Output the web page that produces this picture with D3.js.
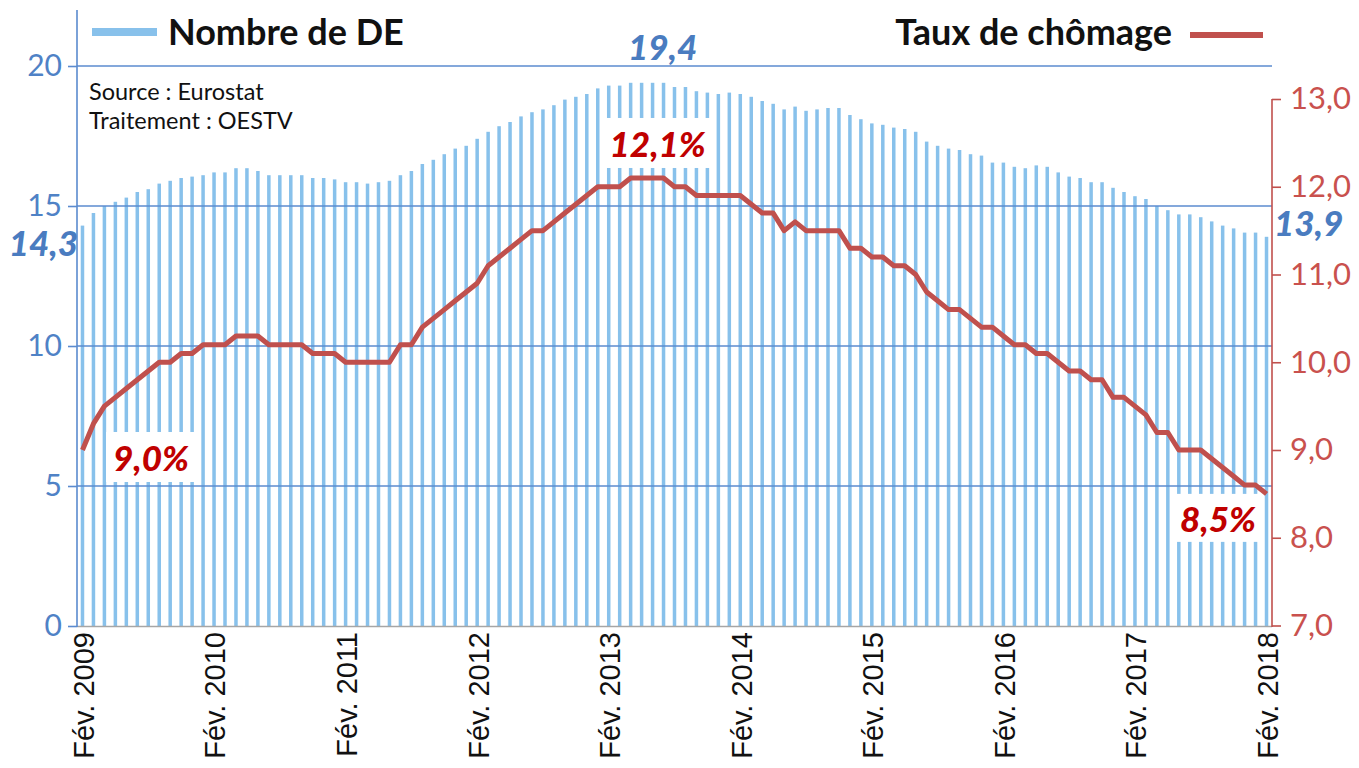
<!DOCTYPE html>
<html><head><meta charset="utf-8">
<script src="https://cdn.jsdelivr.net/npm/d3@7"></script>
<style>
html,body{margin:0;padding:0;background:#fff;}
svg{display:block;}
</style></head>
<body>
<svg id="chart" width="1359" height="768"></svg>
<script>
// ---------- DATA ----------
const startYear = 2009, startMonth = 1; // février (0-based index 1)
const monthNames = ["Jan.","Fév.","Mars","Avr.","Mai","Juin","Juil.","Août","Sept.","Oct.","Nov.","Déc."];
const nMonths = 109; // Fév. 2009 -> Fév. 2018
const categories = Array.from({length: nMonths}, (_, i) => {
  const m = (startMonth + i) % 12, y = startYear + Math.floor((startMonth + i) / 12);
  return monthNames[m] + " " + y;
});
const tickLabels = ["Fév. 2009","Fév. 2010","Fév. 2011","Fév. 2012","Fév. 2013","Fév. 2014","Fév. 2015","Fév. 2016","Fév. 2017","Fév. 2018"];

// Nombre de demandeurs d'emploi (millions)
const nombreDE = [
  14.3,14.75,15.0,15.15,15.3,15.5,15.6,15.8,15.9,16.0,16.05,16.1,
  16.2,16.2,16.35,16.35,16.25,16.1,16.1,16.1,16.1,16.0,16.0,15.95,
  15.85,15.85,15.8,15.85,15.9,16.1,16.25,16.5,16.65,16.85,17.05,17.15,
  17.4,17.65,17.85,18.0,18.2,18.35,18.45,18.6,18.8,18.9,19.0,19.2,
  19.3,19.3,19.4,19.4,19.4,19.4,19.25,19.25,19.1,19.05,19.0,19.05,
  19.0,18.9,18.75,18.65,18.45,18.55,18.4,18.45,18.5,18.5,18.25,18.1,
  17.95,17.9,17.8,17.75,17.65,17.3,17.15,17.05,17.0,16.85,16.8,16.55,
  16.55,16.4,16.35,16.45,16.4,16.2,16.05,16.0,15.85,15.85,15.65,15.5,
  15.35,15.25,15.0,14.85,14.7,14.7,14.6,14.45,14.3,14.2,14.05,14.05,
  13.9
];
// Taux de chômage (%)
const tauxChomage = [
  9.0,9.3,9.5,9.6,9.7,9.8,9.9,10.0,10.0,10.1,10.1,10.2,
  10.2,10.2,10.3,10.3,10.3,10.2,10.2,10.2,10.2,10.1,10.1,10.1,
  10.0,10.0,10.0,10.0,10.0,10.2,10.2,10.4,10.5,10.6,10.7,10.8,
  10.9,11.1,11.2,11.3,11.4,11.5,11.5,11.6,11.7,11.8,11.9,12.0,
  12.0,12.0,12.1,12.1,12.1,12.1,12.0,12.0,11.9,11.9,11.9,11.9,
  11.9,11.8,11.7,11.7,11.5,11.6,11.5,11.5,11.5,11.5,11.3,11.3,
  11.2,11.2,11.1,11.1,11.0,10.8,10.7,10.6,10.6,10.5,10.4,10.4,
  10.3,10.2,10.2,10.1,10.1,10.0,9.9,9.9,9.8,9.8,9.6,9.6,
  9.5,9.4,9.2,9.2,9.0,9.0,9.0,8.9,8.8,8.7,8.6,8.6,
  8.5
];
const leftTicks = [0,5,10,15,20];
const rightTicks = [7,8,9,10,11,12,13];
const legendLabels = ["Nombre de DE","Taux de chômage"];
const sourceLines = ["Source : Eurostat","Traitement : OESTV"];

// ---------- STYLE ----------
const C = {
  bar: "#88C1EB", grid: "#5B8BCF", leftTxt: "#4F82C6", valBlue: "#4A7CC0",
  red: "#C0504D", redTxt: "#C9514E", valRed: "#C00000", axisGrey: "#A6A6A6"
};
const FONT = "Lato, 'Open Sans', sans-serif";

const svg = d3.select("#chart");
const xL = 77, xR = 1272, yB = 626;

const x = d3.scaleBand().domain(categories).range([xL, xR]).paddingInner(0.68).paddingOuter(0.34);
const xc = d => x(d) + x.bandwidth() / 2;
const yL = d3.scaleLinear().domain([0, 20]).range([yB, 66]);
const yR = d3.scaleLinear().domain([7, 13]).range([yB - 0.5, 99]);

// bars
svg.append("g").selectAll("rect").data(nombreDE).join("rect")
  .attr("x", (d, i) => x(categories[i]))
  .attr("width", x.bandwidth())
  .attr("y", d => yL(d))
  .attr("height", d => yL(0) - yL(d))
  .attr("fill", C.bar);

// gridlines (over bars)
svg.append("g").selectAll("line").data(leftTicks.filter(t => t > 0)).join("line")
  .attr("x1", xL).attr("x2", xR).attr("y1", d => yL(d)).attr("y2", d => yL(d))
  .attr("stroke", C.grid).attr("stroke-width", 1.6);

// bottom axis line
svg.append("line").attr("x1", xL).attr("x2", xR).attr("y1", yB + 0.5).attr("y2", yB + 0.5)
  .attr("stroke", C.axisGrey).attr("stroke-width", 1.5);

// left axis
const gL = svg.append("g").attr("transform", `translate(${xL},0)`)
  .call(d3.axisLeft(yL).tickValues(leftTicks).tickSize(9).tickPadding(6).tickFormat(d3.format("d")));
gL.select(".domain").remove();
gL.append("line").attr("x1", 0).attr("x2", 0).attr("y1", 10).attr("y2", yB + 1)
  .attr("stroke", C.grid).attr("stroke-width", 1.6);
gL.selectAll(".tick line").attr("stroke", C.grid).attr("stroke-width", 1.6);
gL.selectAll(".tick text").attr("fill", C.leftTxt).attr("font-family", FONT).attr("font-size", 30);

// right axis
const gR = svg.append("g").attr("transform", `translate(${xR},0)`)
  .call(d3.axisRight(yR).tickValues(rightTicks).tickSize(9).tickPadding(9)
    .tickFormat(d => d3.format(".1f")(d).replace(".", ",")));
gR.select(".domain").attr("stroke", C.red).attr("stroke-width", 1.6)
  .attr("d", `M0,${yR(13)}V${yB + 1}`);
gR.selectAll(".tick line").attr("stroke", C.red).attr("stroke-width", 1.6);
gR.selectAll(".tick text").attr("fill", C.redTxt).attr("font-family", FONT).attr("font-size", 31);

// x tick labels
const tickIdx = tickLabels.map(l => categories.indexOf(l));
svg.append("g").selectAll("text").data(tickIdx).join("text")
  .attr("transform", i => `translate(${xc(categories[i]) + 1},${yB + 6}) rotate(-90)`)
  .attr("text-anchor", "end").attr("dy", "0.36em")
  .attr("font-family", "'Liberation Sans', Arial, sans-serif").attr("font-size", 29)
  .attr("fill", "#111")
  .text(i => categories[i]);

// value label helper with white box
function boxLabel(txt, cx, baseline, color, pad) {
  const g = svg.append("g");
  const r = g.append("rect").attr("fill", "#fff");
  const t = g.append("text").attr("x", cx).attr("y", baseline).attr("text-anchor", "middle")
    .attr("font-family", FONT).attr("font-weight", 900).attr("font-style", "italic")
    .attr("font-size", 35).attr("fill", color).text(txt);
  const b = t.node().getBBox();
  r.attr("x", b.x - pad[0]).attr("y", b.y - pad[1]).attr("width", b.width + 2 * pad[0]).attr("height", b.height + 2 * pad[1]);
  return g;
}

const fmtPct = v => d3.format(".1f")(v).replace(".", ",") + "%";
const fmtNum = v => d3.format(".1f")(v).replace(".", ",");
const last = nombreDE.length - 1;
const iMaxR = tauxChomage.indexOf(d3.max(tauxChomage));
const iMaxL = nombreDE.indexOf(d3.max(nombreDE));

// boxed labels for rate
boxLabel(fmtPct(tauxChomage[0]), 151, yR(tauxChomage[0]) + 21, C.valRed, [7, 4]);
boxLabel(fmtPct(tauxChomage[iMaxR]), xc(categories[iMaxR]) + 27, yR(tauxChomage[iMaxR]) - 21, C.valRed, [7, 4]);
boxLabel(fmtPct(tauxChomage[last]), 1218, yR(tauxChomage[last]) + 38, C.valRed, [6, 3]);

// rate line
svg.append("path").datum(tauxChomage)
  .attr("d", d3.line().x((d, i) => xc(categories[i])).y(d => yR(d)))
  .attr("fill", "none").attr("stroke", C.red).attr("stroke-width", 5).attr("stroke-linejoin", "round");

// number labels
const vlab = (txt, xx, yy, anchor) => svg.append("text").attr("x", xx).attr("y", yy).attr("text-anchor", anchor)
  .attr("font-family", FONT).attr("font-weight", 900).attr("font-style", "italic")
  .attr("font-size", 35).attr("fill", C.valBlue).text(txt);
vlab(fmtNum(nombreDE[0]), 78, yL(nombreDE[0]) + 30, "end");
vlab(fmtNum(d3.max(nombreDE)), xc(categories[iMaxL]) + 32, yL(d3.max(nombreDE)) - 23, "middle");
vlab(fmtNum(nombreDE[last]), 1274, yL(nombreDE[last]) - 1, "start");

// legend
svg.append("line").attr("x1", 92).attr("x2", 157).attr("y1", 32).attr("y2", 32)
  .attr("stroke", C.bar).attr("stroke-width", 8);
svg.append("text").attr("x", 168).attr("y", 45).attr("font-family", FONT).attr("font-weight", 700)
  .attr("font-size", 36).attr("fill", "#111").text(legendLabels[0]);
svg.append("text").attr("x", 1172).attr("y", 45).attr("text-anchor", "end").attr("font-family", FONT).attr("font-weight", 700)
  .attr("font-size", 36).attr("fill", "#111").text(legendLabels[1]);
svg.append("line").attr("x1", 1190).attr("x2", 1263).attr("y1", 35).attr("y2", 35)
  .attr("stroke", C.red).attr("stroke-width", 6);

// source
svg.append("g").selectAll("text").data(sourceLines).join("text")
  .attr("x", 89).attr("y", (d, i) => 100 + i * 29)
  .attr("font-family", FONT).attr("font-size", 23.5).attr("fill", "#111").text(d => d);
</script>
</body></html>
